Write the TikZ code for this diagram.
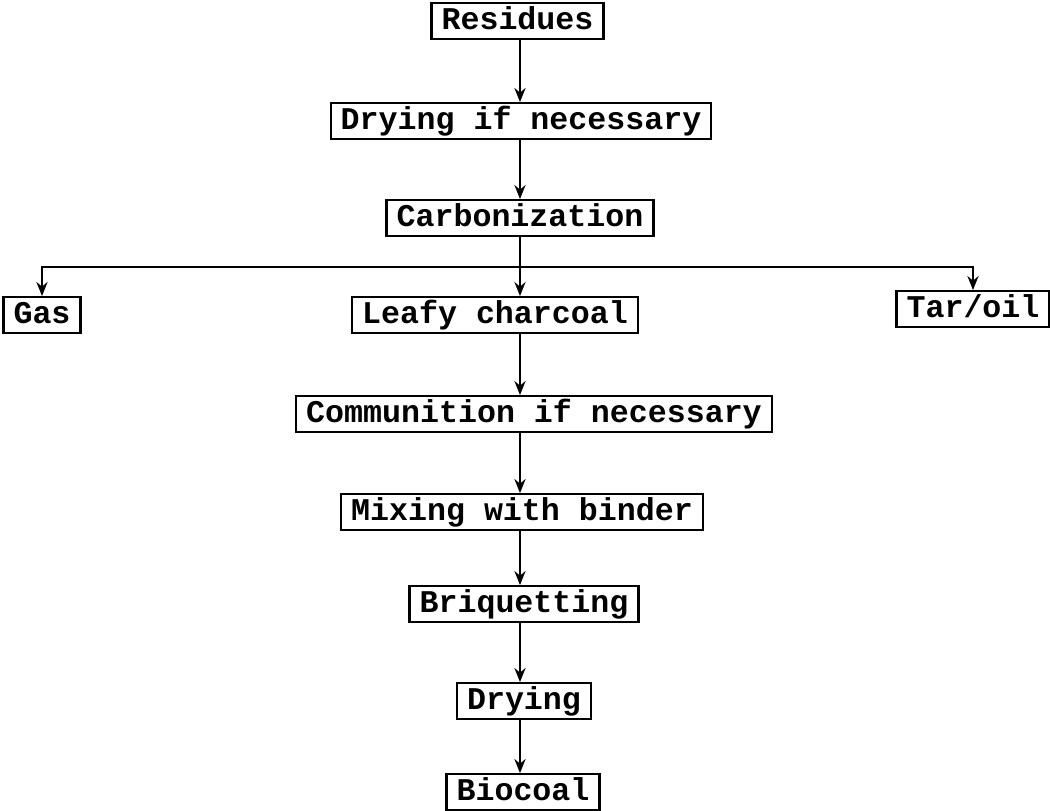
\documentclass[tikz,border=0pt]{standalone}
\usepackage{fontspec}
\setmonofont{Liberation Mono}
\usepackage{tikz}
\usetikzlibrary{arrows.meta}
\usetikzlibrary{calc}
\tikzset{stage/.style={draw, line width=1.3pt, inner xsep=0.2cm, inner ysep=0.07cm,
    text height=0.45cm, text depth=0.12cm,
    font=\ttfamily\bfseries\fontsize{18}{20}\selectfont}}
\tikzset{flow/.style={line width=1.6pt, ->}}

\begin{document}
\begin{tikzpicture}[>={Stealth[length=2.8mm,width=2.2mm]}]
    \useasboundingbox (0,0) rectangle (21,-16.22);
    \coordinate (axis) at (10.40,0);

    \node[stage] at (10.35,-0.42) (res){Residues};
    \node[stage] at ([xshift = 0.07cm, yshift = -2cm]res) (dryif){Drying if necessary};
    \node[stage] at ([xshift = -0.02cm, yshift = -1.94cm]dryif) (carb){Carbonization};
    \node[stage] at ([xshift = -0.5cm, yshift = -1.94cm]carb) (leafy){Leafy charcoal};
    \node[stage] at (0.84,-6.30) (gas){Gas};
    \node[stage] at (19.46,-6.18) (tar){Tar/oil};
    \node[stage] at ([xshift = 0.78cm, yshift = -1.98cm]leafy) (comm){Communition if necessary};
    \node[stage] at ([xshift = -0.24cm, yshift = -1.96cm]comm) (mix){Mixing with binder};
    \node[stage] at ([xshift = 0.04cm, yshift = -1.84cm]mix) (briq){Briquetting};
    \node[stage] at ([yshift = -1.94cm]briq) (dry){Drying};
    \node[stage] at ([xshift = -0.02cm, yshift = -1.82cm]dry) (bio){Biocoal};

    % main line
    \draw[flow] (res.south -| axis) -- (dryif.north -| axis);
    \draw[flow] (dryif.south -| axis) -- (carb.north -| axis);
    \draw[flow] (carb.south -| axis) -- (leafy.north -| axis);
    \draw[flow] (leafy.south -| axis) -- (comm.north -| axis);
    \draw[flow] (comm.south -| axis) -- (mix.north -| axis);
    \draw[flow] (mix.south -| axis) -- (briq.north -| axis);
    \draw[flow] (briq.south -| axis) -- (dry.north -| axis);
    \draw[flow] (dry.south -| axis) -- (bio.north -| axis);

    % side products
    \coordinate (split) at ($(axis)+(0,-5.34)$);
    \draw[flow] (split) -- (split -| gas.north) -- (gas.north);
    \draw[flow] (split) -- (split -| tar.north) -- (tar.north);
\end{tikzpicture}
\end{document}
